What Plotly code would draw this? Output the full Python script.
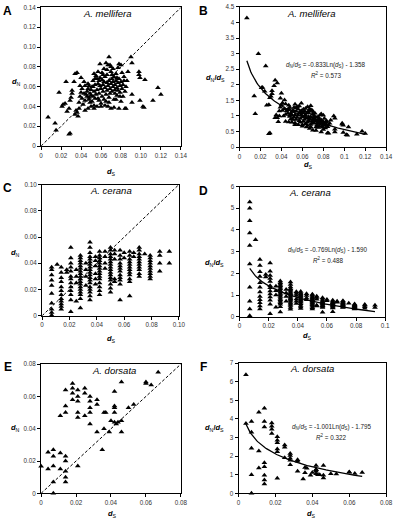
import plotly.graph_objects as go
import numpy as np

W, H = 400, 522

# ---------------- data ----------------
# A. mellifera : (dS, dN)
mel_points = [
    (0.007, 0.029), (0.014, 0.023), (0.015, 0.016), (0.029, 0.013), (0.028, 0.012),
    (0.018, 0.054), (0.021, 0.040), (0.022, 0.042), (0.024, 0.043), (0.025, 0.065),
    (0.026, 0.035), (0.028, 0.038), (0.029, 0.046), (0.031, 0.056), (0.031, 0.053),
    (0.030, 0.049), (0.033, 0.065), (0.034, 0.073), (0.036, 0.074), (0.034, 0.032),
    (0.035, 0.036), (0.036, 0.034), (0.037, 0.030), (0.038, 0.038), (0.039, 0.061),
    (0.040, 0.069), (0.040, 0.054), (0.041, 0.058), (0.042, 0.042), (0.043, 0.065),
    (0.044, 0.061), (0.044, 0.036), (0.045, 0.052), (0.046, 0.055), (0.047, 0.038),
    (0.047, 0.063), (0.048, 0.049), (0.048, 0.047), (0.049, 0.053), (0.050, 0.051),
    (0.050, 0.057), (0.051, 0.045), (0.051, 0.060), (0.052, 0.050), (0.052, 0.066),
    (0.053, 0.073), (0.053, 0.055), (0.054, 0.062), (0.054, 0.048), (0.055, 0.071),
    (0.055, 0.052), (0.056, 0.040), (0.056, 0.057), (0.057, 0.075), (0.057, 0.063),
    (0.058, 0.053), (0.058, 0.046), (0.059, 0.083), (0.059, 0.069), (0.060, 0.058),
    (0.060, 0.043), (0.061, 0.050), (0.061, 0.067), (0.062, 0.062), (0.062, 0.055),
    (0.063, 0.078), (0.063, 0.047), (0.064, 0.059), (0.064, 0.070), (0.065, 0.084),
    (0.065, 0.045), (0.065, 0.052), (0.066, 0.064), (0.066, 0.056), (0.067, 0.082),
    (0.067, 0.061), (0.067, 0.040), (0.068, 0.090), (0.068, 0.066), (0.068, 0.049),
    (0.069, 0.082), (0.069, 0.058), (0.069, 0.053), (0.070, 0.075), (0.070, 0.063),
    (0.070, 0.038), (0.071, 0.068), (0.071, 0.055), (0.072, 0.060), (0.072, 0.065),
    (0.073, 0.070), (0.073, 0.047), (0.073, 0.039), (0.074, 0.062), (0.074, 0.057),
    (0.075, 0.066), (0.075, 0.073), (0.076, 0.059), (0.076, 0.051), (0.077, 0.064),
    (0.077, 0.056), (0.078, 0.083), (0.078, 0.038), (0.078, 0.068), (0.079, 0.061),
    (0.079, 0.054), (0.080, 0.082), (0.080, 0.065), (0.080, 0.045), (0.081, 0.058),
    (0.082, 0.062), (0.082, 0.050), (0.083, 0.070), (0.084, 0.038), (0.085, 0.038),
    (0.086, 0.066), (0.087, 0.075), (0.090, 0.090), (0.091, 0.084), (0.091, 0.052),
    (0.091, 0.044), (0.098, 0.075), (0.098, 0.072), (0.099, 0.069), (0.099, 0.046),
    (0.102, 0.040), (0.103, 0.039), (0.104, 0.067), (0.112, 0.046), (0.117, 0.059),
    (0.120, 0.052), (0.046, 0.050), (0.049, 0.044), (0.053, 0.041), (0.057, 0.048),
    (0.059, 0.061), (0.063, 0.065), (0.066, 0.072), (0.071, 0.072), (0.072, 0.078),
    (0.074, 0.053), (0.076, 0.069), (0.062, 0.072), (0.058, 0.066), (0.054, 0.068),
    (0.048, 0.061), (0.044, 0.046), (0.041, 0.048), (0.038, 0.044), (0.050, 0.040),
    (0.053, 0.038), (0.060, 0.040), (0.064, 0.041), (0.068, 0.044), (0.075, 0.047),
    (0.079, 0.050), (0.085, 0.060), (0.084, 0.055), (0.083, 0.066), (0.081, 0.074),
    (0.077, 0.079), (0.070, 0.080), (0.066, 0.077), (0.061, 0.074), (0.056, 0.068),
    (0.052, 0.060), (0.047, 0.058), (0.043, 0.053), (0.039, 0.050),
]

# A. cerana : dS columns and the dN values stacked in each column
cer_cols = [0.007, 0.011, 0.014, 0.018, 0.021, 0.025, 0.028, 0.032, 0.035, 0.039,
            0.042, 0.046, 0.050, 0.053, 0.057, 0.060, 0.064, 0.067, 0.071, 0.075,
            0.079, 0.086, 0.093]
cer_dN = [
    [0.037, 0.035, 0.031, 0.027, 0.023, 0.017, 0.0095, 0.005, 0.0025, 0.0003],
    [0.039],
    [0.037, 0.033, 0.029, 0.026, 0.022, 0.019, 0.016, 0.013, 0.011, 0.009, 0.007, 0.005],
    [0.035, 0.033],
    [0.052, 0.044, 0.040, 0.037, 0.034, 0.030, 0.028, 0.025, 0.022, 0.019, 0.016, 0.012, 0.003],
    [0.035, 0.030, 0.025, 0.011],
    [0.046, 0.044, 0.042, 0.040, 0.038, 0.036, 0.034, 0.032, 0.030, 0.028, 0.026, 0.024,
     0.022, 0.020, 0.018, 0.016, 0.013, 0.006],
    [0.040, 0.035, 0.030, 0.023],
    [0.056, 0.052, 0.048, 0.045, 0.043, 0.041, 0.039, 0.037, 0.035, 0.033, 0.031, 0.029,
     0.027, 0.025, 0.022, 0.020, 0.018, 0.015, 0.012],
    [0.045, 0.042, 0.038, 0.032, 0.028, 0.024],
    [0.049, 0.046, 0.044, 0.042, 0.040, 0.038, 0.036, 0.034, 0.032, 0.030, 0.028, 0.025,
     0.022, 0.019, 0.016],
    [0.049, 0.045, 0.040, 0.036],
    [0.052, 0.050, 0.047, 0.045, 0.043, 0.041, 0.039, 0.037, 0.035, 0.033, 0.031, 0.029,
     0.027, 0.024, 0.021, 0.018],
    [0.050, 0.047, 0.043, 0.028, 0.026],
    [0.050, 0.046, 0.043, 0.040, 0.038, 0.036, 0.034, 0.031, 0.029, 0.027, 0.024, 0.012],
    [0.048, 0.044],
    [0.049, 0.046, 0.043, 0.041, 0.039, 0.037, 0.035, 0.033, 0.031, 0.028, 0.026, 0.015],
    [0.048, 0.045],
    [0.052, 0.050, 0.047, 0.045, 0.043, 0.041, 0.039, 0.037, 0.035, 0.032, 0.030],
    [0.047],
    [0.046, 0.044, 0.042, 0.040, 0.038, 0.036, 0.034, 0.032, 0.030, 0.028],
    [0.049, 0.046, 0.040, 0.034],
    [0.049, 0.040],
]

# A. dorsata : (dS, dN)
dor_points = [
    (0.000, 0.0167), (0.004, 0.0255), (0.004, 0.015), (0.007, 0.027), (0.007, 0.023),
    (0.007, 0.017), (0.007, 0.007), (0.007, 0.000), (0.011, 0.025), (0.011, 0.015),
    (0.011, 0.048), (0.014, 0.023), (0.014, 0.020), (0.014, 0.0137), (0.014, 0.010),
    (0.014, 0.007), (0.014, 0.054), (0.014, 0.050), (0.014, 0.064), (0.018, 0.068),
    (0.018, 0.065), (0.018, 0.062), (0.018, 0.058), (0.021, 0.064), (0.021, 0.060),
    (0.021, 0.057), (0.021, 0.050), (0.021, 0.047), (0.021, 0.017), (0.025, 0.065),
    (0.025, 0.062), (0.025, 0.048), (0.028, 0.060), (0.028, 0.057), (0.028, 0.053),
    (0.028, 0.050), (0.028, 0.043), (0.032, 0.058), (0.032, 0.055), (0.032, 0.038),
    (0.035, 0.027), (0.036, 0.050), (0.037, 0.050), (0.036, 0.040), (0.039, 0.038),
    (0.040, 0.045), (0.042, 0.063), (0.042, 0.054), (0.042, 0.053), (0.042, 0.050),
    (0.042, 0.044), (0.043, 0.043), (0.044, 0.044), (0.046, 0.045), (0.046, 0.038),
    (0.046, 0.069), (0.050, 0.053), (0.053, 0.055), (0.060, 0.068), (0.060, 0.069),
    (0.063, 0.067), (0.067, 0.075),
]

# trend lines written on the chart: y = a*Ln(dS) + b
fit_mel = (-0.833, -1.358, "0.573")
fit_cer = (-0.769, -1.590, "0.488")
fit_dor = (-1.001, -1.795, "0.322")

species = ["A. mellifera", "A. cerana", "A. dorsata"]

# ---------------- helpers ----------------
def px_x(p):
    return p / W

def px_y(p):
    return 1 - p / H

mel_dS = [p[0] for p in mel_points]
mel_dN = [p[1] for p in mel_points]
cer_dS_all = [c for c, col in zip(cer_cols, cer_dN) for _ in col]
cer_dN_all = [v for col in cer_dN for v in col]
dor_dS = [p[0] for p in dor_points]
dor_dN = [p[1] for p in dor_points]

def ratio(ds, dn):
    xs, ys = [], []
    for a, b in zip(ds, dn):
        if a > 0:
            xs.append(a)
            ys.append(b / a)
    return xs, ys

FONT = "Liberation Sans, Arial, sans-serif"

fig = go.Figure()

panels = [
    dict(x=mel_dS, y=mel_dN, kind="diag", xd=(40, 183), yd=(3.5, 144), xmax=0.14, ymax=0.14,
         xt=[0, 0.02, 0.04, 0.06, 0.08, 0.10, 0.12, 0.14],
         xl=["0", "0.02", "0.04", "0.06", "0.08", "0.10", "0.12", "0.14"],
         yt=[0, 0.02, 0.04, 0.06, 0.08, 0.10, 0.12, 0.14],
         yl=["0", "0.02", "0.04", "0.06", "0.08", "0.10", "0.12", "0.14"]),
    dict(x=mel_dS, y=mel_dN, kind="ratio", fit=fit_mel, xd=(243, 393), yd=(3, 145), xmax=0.14, ymax=4.5,
         xt=[0, 0.02, 0.04, 0.06, 0.08, 0.10, 0.12, 0.14],
         xl=["0", "0.02", "0.04", "0.06", "0.08", "0.1", "0.12", "0.14"],
         yt=[0, 0.5, 1, 1.5, 2, 2.5, 3, 3.5, 4, 4.5],
         yl=["0", "0.5", "1", "1.5", "2", "2.5", "3", "3.5", "4", "4.5"]),
    dict(x=cer_dS_all, y=cer_dN_all, kind="diag", xd=(41, 181), yd=(183, 316), xmax=0.10, ymax=0.10,
         xt=[0, 0.02, 0.04, 0.06, 0.08, 0.10],
         xl=["0", "0.02", "0.04", "0.06", "0.08", "0.10"],
         yt=[0, 0.02, 0.04, 0.06, 0.08, 0.10],
         yl=["0", "0.02", "0.04", "0.06", "0.08", "0.10"]),
    dict(x=cer_dS_all, y=cer_dN_all, kind="ratio", fit=fit_cer, xd=(243, 392), yd=(185, 317), xmax=0.10, ymax=6,
         xt=[0, 0.02, 0.04, 0.06, 0.08, 0.10],
         xl=["0", "0.02", "0.04", "0.06", "0.08", "0.1"],
         yt=[0, 1, 2, 3, 4, 5, 6], yl=["0", "1", "2", "3", "4", "5", "6"]),
    dict(x=dor_dS, y=dor_dN, kind="diag", xd=(40, 183), yd=(365, 496), xmax=0.08, ymax=0.08,
         xt=[0, 0.02, 0.04, 0.06, 0.08], xl=["0", "0.02", "0.04", "0.06", "0.08"],
         yt=[0, 0.02, 0.04, 0.06, 0.08], yl=["0", "0.02", "0.04", "0.06", "0.08"]),
    dict(x=dor_dS, y=dor_dN, kind="ratio", fit=fit_dor, xd=(242, 393), yd=(364, 496), xmax=0.08, ymax=7,
         xt=[0, 0.02, 0.04, 0.06, 0.08], xl=["0", "0.02", "0.04", "0.06", "0.08"],
         yt=[0, 1, 2, 3, 4, 5, 6, 7], yl=["0", "1", "2", "3", "4", "5", "6", "7"]),
]

letters = ["A", "B", "C", "D", "E", "F"]
letter_pos = [(6, 7), (206, 7), (6, 186), (206, 190), (6, 368), (206, 368)]
title_pos = [(108, 10), (317, 10), (112, 189), (315, 191), (115, 371), (317, 369)]
ytitle_pos = [(15, 79), (218, 75), (14, 252), (217, 263), (14, 430), (217, 430)]
xtitle_pos = [(112, 170), (314, 163), (112, 340), (313, 337), (113, 517), (317, 517)]
eq_pos = {1: (331, 62), 3: (333, 249), 5: (337, 429)}

annotations = []
for i, p in enumerate(panels):
    n = i + 1
    xa = "x" if n == 1 else f"x{n}"
    ya = "y" if n == 1 else f"y{n}"
    if p["kind"] == "diag":
        xs, ys = p["x"], p["y"]
    else:
        xs, ys = ratio(p["x"], p["y"])
    fig.add_trace(go.Scatter(
        x=xs, y=ys, mode="markers", xaxis=xa, yaxis=ya, cliponaxis=False,
        marker=dict(symbol="triangle-up", size=5, color="black", line=dict(width=0)),
        showlegend=False, hoverinfo="skip"))
    if p["kind"] == "diag":
        fig.add_trace(go.Scatter(
            x=[0, p["xmax"]], y=[0, p["ymax"]], mode="lines", xaxis=xa, yaxis=ya,
            line=dict(color="black", width=1, dash="3px,2px"), showlegend=False, hoverinfo="skip"))
    else:
        a, b, r2 = p["fit"]
        xf = np.linspace(min(xs), max(xs), 120)
        yf = a * np.log(xf) + b
        fig.add_trace(go.Scatter(
            x=xf, y=yf, mode="lines", xaxis=xa, yaxis=ya,
            line=dict(color="black", width=1.3), showlegend=False, hoverinfo="skip"))
        ex, ey = eq_pos[i]
        annotations.append(dict(
            x=px_x(ex), y=px_y(ey), xref="paper", yref="paper", showarrow=False,
            text=f"<i>d</i><sub>N</sub>/<i>d</i><sub>S</sub> = {a:.3f}Ln(<i>d</i><sub>S</sub>) - {abs(b):.3f}",
            font=dict(family=FONT, size=6.3, color="#222"), xanchor="center", yanchor="middle"))
        annotations.append(dict(
            x=px_x(ex), y=px_y(ey + 10), xref="paper", yref="paper", showarrow=False,
            text=f"<i>R</i><sup>2</sup> = {r2}",
            font=dict(family=FONT, size=6.3, color="#222"), xanchor="center", yanchor="middle"))

    axcommon = dict(showline=True, linecolor="black", linewidth=1, mirror=True,
                    showgrid=False, zeroline=False, ticks="outside", ticklen=3,
                    tickwidth=1, tickcolor="black",
                    tickfont=dict(family=FONT, size=6.3, color="#333"))
    fig.layout[f"xaxis{n if n > 1 else ''}"] = dict(
        domain=[px_x(p["xd"][0]), px_x(p["xd"][1])], range=[0, p["xmax"]],
        anchor=ya, tickvals=p["xt"], ticktext=p["xl"], **axcommon)
    fig.layout[f"yaxis{n if n > 1 else ''}"] = dict(
        domain=[px_y(p["yd"][1]), px_y(p["yd"][0])], range=[0, p["ymax"]],
        anchor=xa, tickvals=p["yt"], ticktext=p["yl"], **axcommon)

    lx, ly = letter_pos[i]
    annotations.append(dict(x=px_x(lx), y=px_y(ly), xref="paper", yref="paper", showarrow=False,
                            text=f"<b>{letters[i]}</b>", font=dict(family=FONT, size=12, color="black"),
                            xanchor="center", yanchor="middle"))
    tx, ty = title_pos[i]
    annotations.append(dict(x=px_x(tx), y=px_y(ty), xref="paper", yref="paper", showarrow=False,
                            text=f"<i>{species[i // 2]}</i>", font=dict(family=FONT, size=9.5, color="black"),
                            xanchor="center", yanchor="middle"))
    yx, yy = ytitle_pos[i]
    ytxt = "<b><i>d</i></b><sub>N</sub>" if p["kind"] == "diag" else "<b><i>d</i></b><sub>N</sub><b>/<i>d</i></b><sub>S</sub>"
    annotations.append(dict(x=px_x(yx), y=px_y(yy), xref="paper", yref="paper", showarrow=False,
                            text=ytxt, font=dict(family=FONT, size=7.5, color="black"),
                            xanchor="center", yanchor="middle"))
    xx, xy = xtitle_pos[i]
    annotations.append(dict(x=px_x(xx), y=px_y(xy), xref="paper", yref="paper", showarrow=False,
                            text="<b><i>d</i></b><sub>S</sub>", font=dict(family=FONT, size=7.5, color="black"),
                            xanchor="center", yanchor="middle"))

fig.update_layout(width=W, height=H, margin=dict(l=0, r=0, t=0, b=0),
                  paper_bgcolor="white", plot_bgcolor="white",
                  annotations=annotations, showlegend=False)

fig.write_html("out.html", config={"displayModeBar": False, "staticPlot": True},
               post_script="document.body.style.margin='0px';document.body.style.overflow='hidden';")
